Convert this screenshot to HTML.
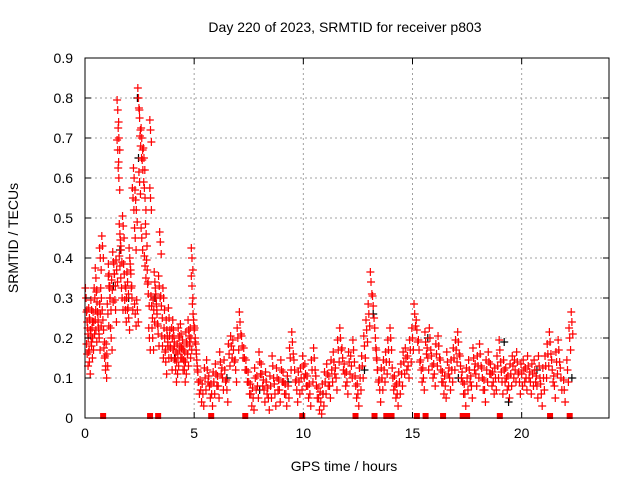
<!DOCTYPE html>
<html><head><meta charset="utf-8"><style>
body{margin:0;background:#fff}
svg{display:block;font-family:"Liberation Sans",sans-serif}
</style></head><body>
<svg id="chart" width="640" height="480">
<rect width="640" height="480" fill="#fff"/>
<g id="grid"></g>
<g id="pts"></g>
<g id="axes"></g>
<text x="345" y="32" text-anchor="middle" font-size="14">Day 220 of 2023, SRMTID for receiver p803</text>
<text x="344" y="471" text-anchor="middle" font-size="14">GPS time / hours</text>
<text transform="translate(18,238) rotate(-90)" text-anchor="middle" font-size="14">SRMTID / TECUs</text>
</svg>
<script>
const xTicks=[0,5,10,15,20];
const yTicks=[0,0.1,0.2,0.3,0.4,0.5,0.6,0.7,0.8,0.9];
const yTickLabels=["0","0.1","0.2","0.3","0.4","0.5","0.6","0.7","0.8","0.9"];
const redTimes=[0.05,0.1,0.1,0.15,0.2,0.2,0.25,0.3,0.3,0.35,0.4,0.45,0.5,0.5,0.55,0.6,0.65,0.7,0.7,0.75,0.8,0.85,0.9,0.95,1.0,1.05,1.1,1.1,1.15,1.2,1.25,1.3,1.35,1.4,1.45,1.5,1.5,1.55,1.55,1.6,1.6,1.65,1.7,1.75,1.8,1.85,1.9,1.95,2.0,2.05,2.1,2.15,2.2,2.25,2.3,2.3,2.35,2.4,2.45,2.5,2.5,2.55,2.6,2.6,2.65,2.7,2.75,2.75,2.8,2.85,2.9,2.95,3.0,3.0,3.05,3.1,3.15,3.2,3.25,3.3,3.35,3.4,3.45,3.5,3.55,3.6,3.65,3.7,3.75,3.8,3.85,3.9,3.95,4.0,4.05,4.1,4.15,4.2,4.25,4.3,4.35,4.4,4.45,4.5,4.55,4.6,4.65,4.7,4.75,4.8,4.85,4.9,4.9,4.95,5.0,5.05,5.1,5.15,5.2,5.3,5.4,5.5,5.6,5.7,5.8,5.9,6.0,6.1,6.2,6.3,6.4,6.5,6.6,6.7,6.8,6.9,7.0,7.1,7.2,7.3,7.4,7.5,7.6,7.7,7.8,7.9,8.0,8.1,8.2,8.3,8.4,8.5,8.6,8.7,8.8,8.9,9.0,9.1,9.2,9.3,9.4,9.5,9.6,9.7,9.8,9.9,10.0,10.1,10.2,10.3,10.4,10.5,10.6,10.7,10.8,10.9,11.0,11.1,11.2,11.3,11.4,11.5,11.6,11.7,11.8,11.9,12.0,12.1,12.2,12.3,12.4,12.5,12.6,12.7,12.8,12.9,13.0,13.1,13.2,13.3,13.35,13.4,13.5,13.6,13.7,13.8,13.9,14.0,14.1,14.2,14.3,14.4,14.5,14.6,14.7,14.8,14.9,15.0,15.1,15.2,15.3,15.4,15.5,15.6,15.7,15.8,15.9,16.0,16.1,16.2,16.3,16.4,16.5,16.6,16.7,16.8,16.9,17.0,17.1,17.2,17.3,17.4,17.5,17.6,17.7,17.8,17.9,18.0,18.1,18.2,18.3,18.4,18.5,18.6,18.7,18.8,18.9,19.0,19.1,19.2,19.3,19.4,19.5,19.6,19.7,19.8,19.9,20.0,20.1,20.2,20.3,20.4,20.5,20.6,20.7,20.8,20.9,21.0,21.1,21.2,21.3,21.4,21.5,21.6,21.7,21.8,21.95,22.1,22.2,22.3,22.4,22.5,22.6,22.75,22.9,23.0];
const redValues=[0.3,0.24,0.16,0.2,0.25,0.14,0.22,0.27,0.18,0.2,0.24,0.3,0.35,0.22,0.29,0.24,0.2,0.4,0.26,0.3,0.43,0.22,0.15,0.13,0.16,0.26,0.33,0.36,0.3,0.2,0.32,0.39,0.36,0.27,0.37,0.77,0.67,0.6,0.7,0.38,0.46,0.42,0.3,0.48,0.36,0.27,0.3,0.34,0.25,0.4,0.36,0.3,0.55,0.6,0.45,0.26,0.52,0.27,0.8,0.75,0.59,0.68,0.7,0.45,0.62,0.65,0.55,0.38,0.46,0.37,0.31,0.2,0.72,0.55,0.28,0.2,0.27,0.34,0.3,0.26,0.21,0.33,0.44,0.28,0.18,0.3,0.2,0.14,0.22,0.18,0.25,0.18,0.15,0.2,0.22,0.18,0.12,0.14,0.16,0.2,0.18,0.21,0.15,0.17,0.12,0.14,0.19,0.16,0.22,0.18,0.2,0.4,0.33,0.26,0.22,0.2,0.16,0.12,0.09,0.07,0.06,0.1,0.12,0.08,0.06,0.09,0.11,0.08,0.14,0.1,0.12,0.07,0.16,0.18,0.17,0.12,0.2,0.24,0.18,0.15,0.12,0.09,0.06,0.05,0.1,0.08,0.14,0.11,0.07,0.09,0.05,0.08,0.13,0.06,0.1,0.07,0.12,0.09,0.06,0.08,0.15,0.19,0.12,0.07,0.09,0.1,0.13,0.11,0.08,0.06,0.12,0.15,0.08,0.05,0.04,0.06,0.09,0.11,0.08,0.12,0.14,0.1,0.17,0.2,0.15,0.11,0.09,0.14,0.13,0.17,0.08,0.06,0.1,0.13,0.18,0.22,0.26,0.34,0.28,0.2,0.15,0.12,0.07,0.1,0.12,0.14,0.17,0.2,0.1,0.08,0.06,0.09,0.11,0.14,0.15,0.13,0.17,0.2,0.26,0.22,0.17,0.12,0.1,0.19,0.15,0.2,0.13,0.11,0.16,0.18,0.12,0.09,0.08,0.14,0.1,0.12,0.15,0.17,0.19,0.13,0.09,0.06,0.1,0.12,0.08,0.15,0.11,0.13,0.16,0.1,0.07,0.12,0.14,0.11,0.09,0.1,0.13,0.17,0.09,0.12,0.1,0.08,0.11,0.13,0.12,0.14,0.09,0.11,0.12,0.1,0.13,0.09,0.11,0.12,0.08,0.13,0.06,0.1,0.13,0.16,0.19,0.12,0.08,0.14,0.17,0.1,0.07,0.12,0.2,0.24];
const blackTimes=[1.3,1.6,2.0,2.4,2.45,3.2,4.1,6.5,8.0,9.3,10.9,12.8,13.2,15.7,17.1,19.2,19.4,20.7,22.3];
const blackValues=[0.33,0.42,0.3,0.8,0.65,0.3,0.15,0.1,0.07,0.09,0.06,0.12,0.26,0.2,0.1,0.19,0.04,0.12,0.1];
const flagTimes=[0.83,2.98,3.35,5.78,7.34,9.95,12.39,13.26,13.8,14.04,15.2,15.6,16.4,17.3,17.5,19.0,21.3,22.2];

const L=85,R=609,T=58,B=418,XMAX=24,YMAX=0.9;
const X=t=>L+t/XMAX*(R-L);
const Y=v=>B-v/YMAX*(B-T);
const NS="http://www.w3.org/2000/svg";
function mk(tag,attrs,parent){const e=document.createElementNS(NS,tag);for(const k in attrs)e.setAttribute(k,attrs[k]);parent.appendChild(e);return e;}
const grid=document.getElementById('grid'),pts=document.getElementById('pts'),axes=document.getElementById('axes');
xTicks.forEach((t,i)=>{
  if(t>0){const g=mk('line',{x1:X(t),x2:X(t),y1:T,y2:B,stroke:'#a0a0a0','stroke-dasharray':'2,3'},grid);
  
  }
  mk('line',{x1:X(t),x2:X(t),y1:B,y2:B-6,stroke:'#000'},axes);
  mk('line',{x1:X(t),x2:X(t),y1:T,y2:T+6,stroke:'#000'},axes);
  const lb=mk('text',{x:X(t),y:B+20,'text-anchor':'middle','font-size':'14'},axes);lb.textContent=t;
  
  
});
yTicks.forEach((v,i)=>{
  if(v>0&&v<YMAX){const g=mk('line',{x1:L,x2:R,y1:Y(v),y2:Y(v),stroke:'#a0a0a0','stroke-dasharray':'2,3'},grid);
  
  }
  mk('line',{x1:L,x2:L+6,y1:Y(v),y2:Y(v),stroke:'#000'},axes);
  mk('line',{x1:R,x2:R-6,y1:Y(v),y2:Y(v),stroke:'#000'},axes);
  const lb=mk('text',{x:L-12,y:Y(v)+5,'text-anchor':'end','font-size':'14'},axes);lb.textContent=yTickLabels[i];
  
  
});
const frame=mk('rect',{x:L,y:T,width:R-L,height:B-T,fill:'none',stroke:'#000'},axes);


function plus(t,v,c){const x=X(t),y=Y(v);
  const p=mk('path',{d:`M${x-4},${y}h8M${x},${y-4}v8`,stroke:c,'stroke-width':'1.2',fill:'none'},pts);
  return p;}
blackTimes.forEach((t,i)=>{const p=plus(t,blackValues[i],'#000');
  
  });
const dv=[0,-0.03,0.025], dt=[0,0.04,-0.03];
redTimes.forEach((t,i)=>{
  dv.forEach((d,k)=>{const v=redValues[i]+d;const p=plus(t+dt[k],Math.max(0.01,v),'#f00');
  
  });
});
flagTimes.forEach(t=>{const r=mk('rect',{x:X(t)-3,y:B-5,width:6,height:6,fill:'#f00'},pts);
  
  });
</script>
</body></html>
